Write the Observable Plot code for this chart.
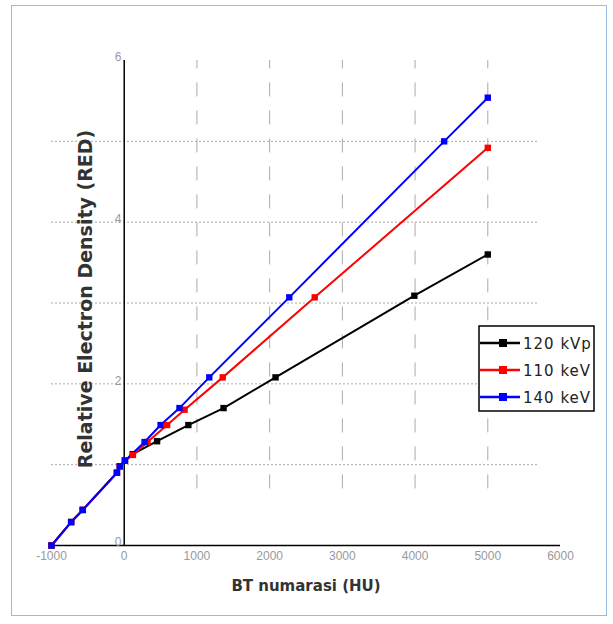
<!DOCTYPE html>
<html>
<head>
<meta charset="utf-8">
<script src="https://cdn.jsdelivr.net/npm/d3@7"></script>
<script src="https://cdn.jsdelivr.net/npm/@observablehq/plot@0.6"></script>
<style>
  html, body { margin: 0; padding: 0; background: #fff; }
  #frame { position: relative; width: 613px; height: 624px; }
  #frame .border { position: absolute; left: 11px; top: 5px; width: 596px; height: 611px; border: 1.5px solid #9cbad9; box-sizing: border-box; pointer-events: none; }
</style>
</head>
<body>
<div id="frame"><div class="border"></div></div>
<script>
const series = ["120 kVp", "110 keV", "140 keV"];
const colors = ["#000000", "#ff0000", "#0000ff"];

const hu120 = [-1000, -730, -570, -100, -60, 10, 117, 452, 882, 1366, 2081, 3990, 5000];
const red120 = [0, 0.29, 0.44, 0.90, 0.98, 1.05, 1.13, 1.29, 1.49, 1.70, 2.08, 3.09, 3.60];

const hu110 = [-1000, -730, -570, -100, -60, 10, 120, 320, 590, 830, 1355, 2620, 5000];
const red110 = [0, 0.29, 0.44, 0.90, 0.98, 1.05, 1.12, 1.28, 1.49, 1.68, 2.08, 3.07, 4.92];

const hu140 = [-1000, -730, -570, -100, -60, 10, 280, 500, 760, 1170, 2270, 4400, 5000];
const red140 = [0, 0.29, 0.44, 0.90, 0.98, 1.05, 1.28, 1.49, 1.70, 2.08, 3.07, 5.00, 5.54];

const xTicks = [-1000, 0, 1000, 2000, 3000, 4000, 5000, 6000];
const yTicks = [0, 2, 4, 6];
const xGrid = [1000, 2000, 3000, 4000, 5000];
const yGrid = [1, 2, 3, 4, 5];

const mk = (hu, rd, s) => hu.map((h, i) => ({hu: h, red: rd[i], s}));
const data = [
  ...mk(hu120, red120, series[0]),
  ...mk(hu110, red110, series[1]),
  ...mk(hu140, red140, series[2])
];

const font = "'Liberation Sans', Arial, sans-serif";
const boldFont = "'DejaVu Sans', 'Liberation Sans', sans-serif";

const plot = Plot.plot({
  width: 613,
  height: 624,
  marginLeft: 51,
  marginRight: 53,
  marginTop: 60,
  marginBottom: 79,
  style: {fontFamily: font, background: "transparent", overflow: "visible"},
  x: {domain: [-1000, 6000], axis: null},
  y: {domain: [0, 6], axis: null},
  color: {domain: series, range: colors},
  marks: [
    Plot.ruleX(xGrid, {y1: 0.7, y2: 6, stroke: "#aaa", strokeWidth: 1, strokeDasharray: "14,14"}),
    Plot.ruleY(yGrid, {x1: -1000, x2: 5700, stroke: "#aaa", strokeWidth: 1, strokeDasharray: "2,2"}),
    Plot.ruleY([0], {x1: -1000, x2: 6000, stroke: "#000", strokeWidth: 1.5}),
    Plot.ruleX([0], {y1: 0, y2: 6, stroke: "#000", strokeWidth: 1.5}),
    Plot.text(xTicks, {x: d => d, y: 0, text: d => String(d), dy: 11, fill: "#999", fontSize: 12, textAnchor: "middle"}),
    Plot.text(yTicks, {x: 0, y: d => d, text: d => String(d), dx: -6, dy: -3, fill: "#999", fontSize: 12, textAnchor: "middle"}),
    Plot.line(data, {x: "hu", y: "red", z: "s", stroke: "s", strokeWidth: 2}),
    Plot.dot(data, {x: "hu", y: "red", fill: "s", symbol: "square", r: 3.6}),
    Plot.text(["Relative Electron Density (RED)"], {x: -530, y: 3.05, text: d => d, rotate: -90, fontSize: 19, fontWeight: "bold", fill: "#333", fontFamily: boldFont}),
    Plot.text(["BT numarasi (HU)"], {x: 2500, y: 0, text: d => d, dy: 41, fontSize: 15, fontWeight: "bold", fill: "#333", fontFamily: boldFont})
  ]
});

const frame = document.getElementById("frame");
plot.style.position = "absolute";
plot.style.left = "0";
plot.style.top = "0";
frame.appendChild(plot);

// Legend
const legend = d3.select(frame).append("svg")
  .attr("width", 118).attr("height", 88)
  .style("position", "absolute").style("left", "478px").style("top", "325px");
legend.append("rect").attr("x", 1).attr("y", 1).attr("width", 115).attr("height", 85)
  .attr("fill", "#fff").attr("stroke", "#000").attr("stroke-width", 1.5);
series.forEach((s, i) => {
  const cy = 18 + i * 27;
  legend.append("line").attr("x1", 2).attr("x2", 42).attr("y1", cy).attr("y2", cy)
    .attr("stroke", colors[i]).attr("stroke-width", 2.5);
  legend.append("rect").attr("x", 21).attr("y", cy - 4).attr("width", 8).attr("height", 8).attr("fill", colors[i]);
  legend.append("text").attr("x", 45).attr("y", cy + 6).text(s)
    .attr("font-family", boldFont).attr("font-size", 15).attr("letter-spacing", "1px").attr("fill", "#222");
});
</script>
</body>
</html>
